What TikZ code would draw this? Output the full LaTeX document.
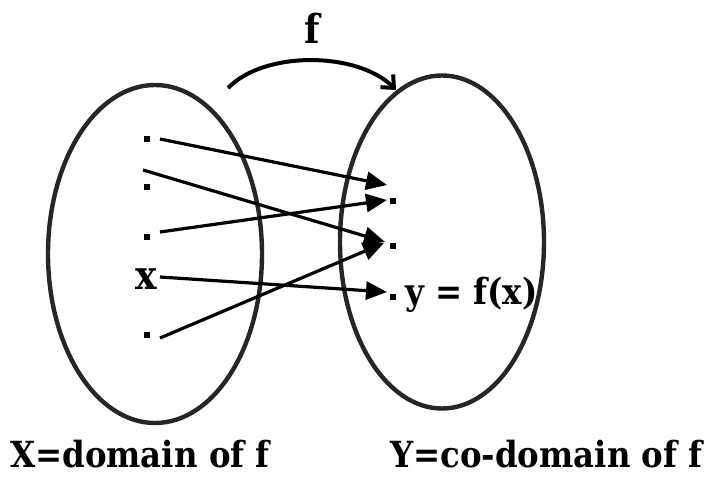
\documentclass[tikz,border=0pt]{standalone}
\usepackage{fontspec}
\setmainfont{DejaVu Serif Condensed}
\usetikzlibrary{arrows.meta,shapes.geometric}
\begin{document}
\begin{tikzpicture}[x=1pt,y=-1pt,
  setbox/.style={ellipse,draw=black!85,line width=4.4pt,inner sep=0pt},
  pt/.style={fill=black,minimum size=6.5pt,inner sep=0pt,rectangle},
  maparrow/.style={line width=3.2pt,-{Triangle[length=21pt,width=18pt]}},
  lbl/.style={font=\bfseries\fontsize{36}{40}\selectfont,inner sep=0pt}]
\useasboundingbox (0,0) rectangle (705,477);
% sets
\node[setbox,minimum width=214pt,minimum height=338pt] (X) at (155,254) {};
\node[setbox,minimum width=204pt,minimum height=333pt] (Y) at (442,242) {};
% domain points
\node[pt] (a1) at (147,139) {};
\node[pt] (a2) at (147,187) {};
\node[pt] (a3) at (147,237) {};
\node[lbl,font=\bfseries\fontsize{40}{44}\selectfont] (ax) at (146,279) {x};
\node[pt] (a5) at (147,335) {};
% codomain points
\node[pt] (b1) at (393,201) {};
\node[pt] (b2) at (393,246) {};
\node[pt] (b3) at (393,297) {};
\node[lbl,anchor=base west] (y) at (405,304) {y = f(x)};
% start and end coordinates
\coordinate (s1) at (160,139);
\coordinate (s2) at (143,170);
\coordinate (s3) at (160,232);
\coordinate (s4) at (160,277);
\coordinate (s5) at (160,338);
\coordinate (t1) at (387,185);
\coordinate (t2) at (385,242);
\coordinate (t3) at (387,200);
\coordinate (t4) at (387,292);
\coordinate (t5) at (384,243);
\draw[maparrow] (s1) -- (t1);
\draw[maparrow] (s2) -- (t2);
\draw[maparrow] (s3) -- (t3);
\draw[maparrow] (s4) -- (t4);
\draw[maparrow] (s5) -- (t5);
% f arrow
\coordinate (f0) at (228,88);
\coordinate (f1) at (396,90);
\draw[line width=4pt,-{Straight Barb[length=10pt,width=18pt]}] (f0) .. controls (265,50) and (358,52) .. (f1);
\node[lbl,font=\bfseries\fontsize{40}{44}\selectfont] (fl) at (312,28) {f};
% captions
\node[lbl,anchor=base west] (cx) at (10,467) {X=domain of f};
\node[lbl,anchor=base west] (cy) at (390,467) {Y=co-domain of f};
\end{tikzpicture}
\end{document}
